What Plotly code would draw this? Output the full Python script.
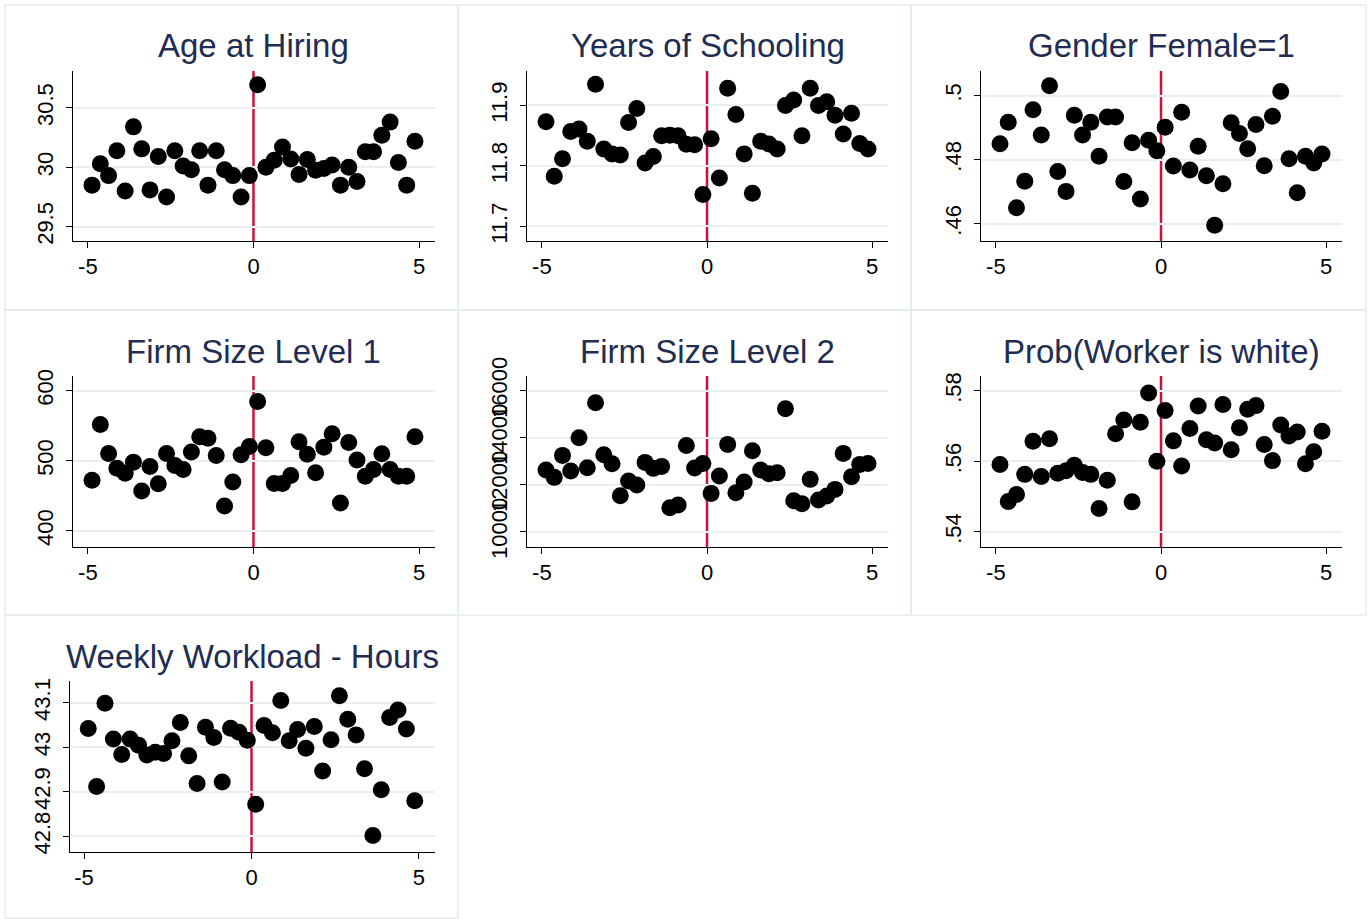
import plotly.graph_objects as go

# ---------------- data ----------------
x_bins = [-4.875, -4.625, -4.375, -4.125, -3.875, -3.625, -3.375, -3.125, -2.875, -2.625,
          -2.375, -2.125, -1.875, -1.625, -1.375, -1.125, -0.875, -0.625, -0.375, -0.125,
          0.125, 0.375, 0.625, 0.875, 1.125, 1.375, 1.625, 1.875, 2.125, 2.375,
          2.625, 2.875, 3.125, 3.375, 3.625, 3.875, 4.125, 4.375, 4.625, 4.875]

age_at_hiring = [29.85, 30.03, 29.93, 30.14, 29.80, 30.34, 30.155, 29.81, 30.09, 29.75,
                 30.14, 30.01, 29.98, 30.14, 29.85, 30.14, 29.98, 29.93, 29.75, 29.93,
                 30.695, 30.00, 30.06, 30.17, 30.07, 29.94, 30.065, 29.975, 29.99, 30.02,
                 29.85, 30.00, 29.88, 30.13, 30.13, 30.27, 30.38, 30.04, 29.85, 30.22]

years_schooling = [11.873, 11.783, 11.812, 11.857, 11.861, 11.841, 11.935, 11.828, 11.820, 11.818,
                   11.872, 11.895, 11.805, 11.8155, 11.850, 11.851, 11.850, 11.836, 11.835, 11.753,
                   11.845, 11.780, 11.9285, 11.885, 11.820, 11.755, 11.841, 11.8365, 11.828, 11.900,
                   11.909, 11.850, 11.9285, 11.900, 11.906, 11.884, 11.853, 11.887, 11.837, 11.828]

gender_female = [0.4850, 0.4917, 0.4650, 0.4733, 0.4956, 0.4877, 0.5031, 0.4763, 0.4701, 0.4939,
                 0.4877, 0.4917, 0.4811, 0.4933, 0.4933, 0.4732, 0.4853, 0.4677, 0.4861, 0.4828,
                 0.4901, 0.4780, 0.4948, 0.4768, 0.4842, 0.4750, 0.4595, 0.4725, 0.4915, 0.4882,
                 0.4834, 0.4910, 0.4781, 0.4936, 0.5013, 0.4803, 0.4697, 0.4811, 0.4790, 0.4818]

firm_size_1 = [472.4, 551.8, 510.5, 489.5, 482.4, 498.1, 456.8, 491.9, 467.2, 510.5,
               493.3, 487.6, 512.4, 534.2, 532.3, 507.6, 435.4, 469.6, 508.6, 520.4,
               584.6, 518.5, 467.7, 467.7, 479.1, 527.1, 509.5, 482.9, 519.5, 538.5,
               439.7, 526.1, 501.0, 478.1, 487.6, 510.0, 487.6, 478.1, 478.1, 534.2]

firm_size_2 = [12624, 12312, 13248, 12581, 14000, 12723, 15488, 13276, 12893, 11532,
               12156, 11986, 12950, 12695, 12780, 11022, 11135, 13673, 12709, 12907,
               11631, 12369, 13716, 11660, 12113, 13446, 12624, 12468, 12510, 15233,
               11319, 11192, 12227, 11348, 11518, 11801, 13333, 12340, 12865, 12907]

prob_white = [0.5591, 0.5486, 0.5506, 0.5563, 0.5657, 0.5557, 0.5664, 0.5566, 0.5573, 0.5589,
              0.5568, 0.5563, 0.5466, 0.5546, 0.5678, 0.5717, 0.5485, 0.5711, 0.5794, 0.5600,
              0.5744, 0.5658, 0.5587, 0.5693, 0.5757, 0.5661, 0.5652, 0.5761, 0.5633, 0.5695,
              0.5748, 0.5758, 0.5648, 0.5602, 0.5703, 0.5672, 0.5683, 0.5593, 0.5627, 0.5685]

weekly_hours = [43.0425, 42.912, 43.099, 43.019, 42.984, 43.019, 43.005, 42.983, 42.989, 42.986,
                43.015, 43.056, 42.981, 42.919, 43.045, 43.022, 42.922, 43.043, 43.034, 43.016,
                42.872, 43.049, 43.033, 43.105, 43.015, 43.040, 42.998, 43.047, 42.947, 43.017,
                43.116, 43.063, 43.028, 42.952, 42.802, 42.905, 43.067, 43.084, 43.041, 42.880]

titles = ["Age at Hiring", "Years of Schooling", "Gender Female=1",
          "Firm Size Level 1", "Firm Size Level 2", "Prob(Worker is white)",
          "Weekly Workload - Hours"]

x_tickvals = [-5, 0, 5]
x_ticktext = ["-5", "0", "5"]

y_tickvals = [[29.5, 30, 30.5], [11.7, 11.8, 11.9], [0.46, 0.48, 0.5],
              [400, 500, 600], [10000, 12000, 14000, 16000], [0.54, 0.56, 0.58],
              [42.8, 42.9, 43, 43.1]]
y_ticktext = [["29.5", "30", "30.5"], ["11.7", "11.8", "11.9"], [".46", ".48", ".5"],
              ["400", "500", "600"], ["10000", "12000", "14000", "16000"], [".54", ".56", ".58"],
              ["42.8", "42.9", "43", "43.1"]]

series = [age_at_hiring, years_schooling, gender_female, firm_size_1,
          firm_size_2, prob_white, weekly_hours]

# ---------------- layout geometry (pixels) ----------------
W, H = 1371, 919
FONT = "Liberation Sans, Arial, sans-serif"
TITLE_COLOR = "#1f2d52"
GRID = "#e9f0f2"
BORDER = "#e4ecef"
RED = "#c8143c"

# plot areas: (left, right, top, bottom) in px
plot_px = [(73, 435, 71, 241), (527, 888, 71, 241), (981, 1342, 71, 241),
           (73, 435, 376, 547), (527, 888, 376, 547), (981, 1342, 376, 547),
           (70, 435, 681, 852)]
y_ranges = [[29.38, 30.81], [11.676, 11.957], [0.4546, 0.5077],
            [377, 621], [9349, 16626], [0.5357, 0.5842], [42.765, 43.149]]
x_ranges = [[-5.45, 5.48]] * 6 + [[-5.42, 5.48]]
title_y_px = [46, 46, 46, 351, 351, 351, 656]
cells_px = [(5, 458, 5, 310), (458, 911, 5, 310), (911, 1366, 5, 310),
            (5, 458, 310, 615), (458, 911, 310, 615), (911, 1366, 310, 615),
            (5, 458, 615, 918)]


def px_x(v):
    return v / W


def px_y(v):
    return 1 - v / H


fig = go.Figure()
layout = dict(
    width=W, height=H, autosize=False,
    margin=dict(l=0, r=0, t=0, b=0, pad=0, autoexpand=False),
    paper_bgcolor="white", plot_bgcolor="white",
    showlegend=False,
    font=dict(family=FONT, color="black"),
)
shapes = []
annotations = []

for i in range(7):
    n = i + 1
    xa = "x" if n == 1 else f"x{n}"
    ya = "y" if n == 1 else f"y{n}"
    l, r, t, b = plot_px[i]

    fig.add_trace(go.Scatter(
        x=x_bins, y=series[i], mode="markers", xaxis=xa, yaxis=ya,
        marker=dict(color="black", size=17, line=dict(width=0)),
        cliponaxis=False,
    ))

    layout[f"xaxis{n if n > 1 else ''}"] = dict(
        domain=[px_x(l), px_x(r)], anchor=ya, range=x_ranges[i],
        tickmode="array", tickvals=x_tickvals, ticktext=x_ticktext,
        showgrid=False, zeroline=False, showline=True, linecolor="black", linewidth=1,
        ticks="outside", ticklen=6, tickcolor="black", tickwidth=1,
        tickfont=dict(size=22, family=FONT, color="black"),
        automargin=False, fixedrange=True,
    )
    layout[f"yaxis{n if n > 1 else ''}"] = dict(
        domain=[px_y(b), px_y(t)], anchor=xa, range=y_ranges[i],
        tickmode="array", tickvals=y_tickvals[i], ticktext=y_ticktext[i],
        showgrid=True, gridcolor=GRID, gridwidth=2, zeroline=False,
        showline=True, linecolor="black", linewidth=1,
        ticks="outside", ticklen=6, tickcolor="black", tickwidth=1,
        tickangle=-90, ticklabelstandoff=4,
        tickfont=dict(size=22, family=FONT, color="black"),
        automargin=False, fixedrange=True,
    )

    # red cutoff line at x = 0
    shapes.append(dict(type="line", xref=xa, yref=f"{ya} domain",
                       x0=0, x1=0, y0=0, y1=1,
                       line=dict(color=RED, width=2.5), layer="below"))

    # cell border
    cl, cr, ct, cb = cells_px[i]
    shapes.append(dict(type="rect", xref="paper", yref="paper",
                       x0=px_x(cl), x1=px_x(cr), y0=px_y(cb), y1=px_y(ct),
                       line=dict(color=BORDER, width=1.5), fillcolor="rgba(0,0,0,0)",
                       layer="below"))

    annotations.append(dict(
        text=titles[i], xref="paper", yref="paper",
        x=px_x((l + r) / 2), y=px_y(title_y_px[i]),
        xanchor="center", yanchor="middle", showarrow=False,
        font=dict(size=33, family=FONT, color=TITLE_COLOR),
    ))

layout["shapes"] = shapes
layout["annotations"] = annotations
fig.update_layout(**layout)

fig.write_html("out.html",
               config={"displayModeBar": False},
               post_script="document.body.style.margin='0';document.body.style.overflow='hidden';")
